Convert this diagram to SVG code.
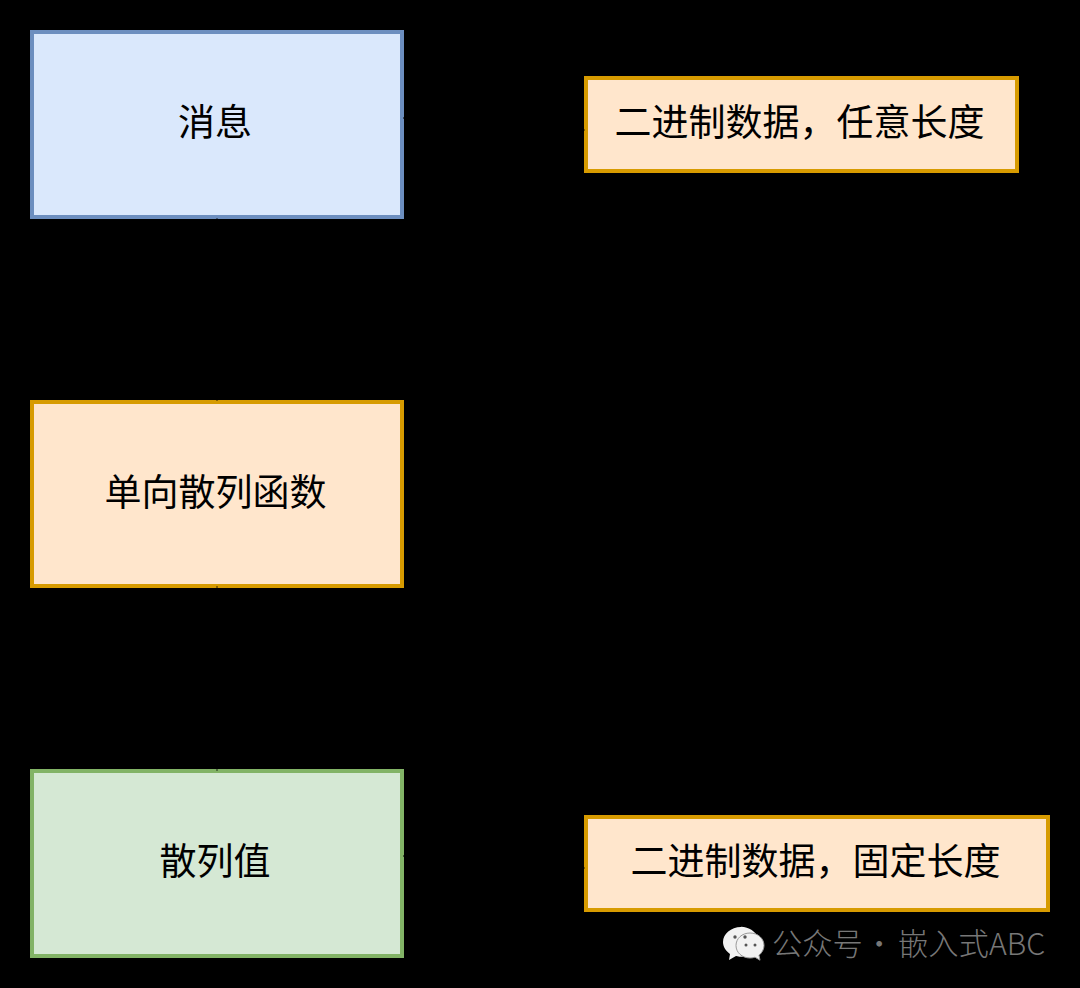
<svg xmlns="http://www.w3.org/2000/svg" width="1080" height="988" viewBox="0 0 1080 988">
<style>
.n{stroke-width:4}
.blue{fill:#dae8fc;stroke:#6c8ebf}
.orange{fill:#ffe6cc;stroke:#d79b00}
.green{fill:#d5e8d4;stroke:#82b366}
text{font-family:"Noto Sans CJK SC","Noto Sans",sans-serif;font-size:37px;fill:#000;text-anchor:middle}
.c{fill:none;stroke:#000;stroke-width:1;stroke-opacity:.75}
.wm{font-size:30.300px;fill:#777;text-anchor:start;font-weight:300}
</style>
<defs><marker id="a" viewBox="0 0 10 10" refX="10" refY="5" markerWidth="6" markerHeight="6" markerUnits="userSpaceOnUse" orient="auto"><path d="M0 0L10 5L0 10L3 5Z" fill="#000"/></marker></defs>
<rect width="1080" height="988" fill="#000"/>
<g id="msg"><rect class="n blue" x="32" y="32" width="370" height="185"/><text x="215" y="136">消息</text></g>
<g id="hash"><rect class="n orange" x="32" y="402" width="370" height="184"/><text x="215.500" y="506">单向散列函数</text></g>
<g id="value"><rect class="n green" x="32" y="771" width="370" height="185"/><text x="215" y="875">散列值</text></g>
<g id="note1"><rect class="n orange" x="586" y="78" width="431" height="93"/><text x="799.500" y="136">二进制数据，任意长度</text></g>
<g id="note2"><rect class="n orange" x="586" y="817" width="462" height="93"/><text x="815.500" y="875">二进制数据，固定长度</text></g>
<g id="connectors">
<path class="c" d="M217 218V401"/>
<path class="c" d="M217 586V771"/>
<path class="c" marker-end="url(#a)" d="M585 130H494V118H403"/>
<path class="c" marker-end="url(#a)" d="M585 868H494V856H403"/>
</g>
<g id="watermark">
<path d="M741 927c-10 0-18 7-18 15 0 5 3 9 7 12l-1 6 7-4c2 .5 3 .7 5 .7h2c-1-2-1-3-1-5 0-8 7-14 16-14-2-6-9-11-17-11z" fill="#f2f2f2"/>
<path d="M750 933c-8 0-14 5.500-14 12.500s6 12.500 14 12.500c2 0 3.500-.3 5-.8l5 3-1-5c3-2.500 5-6 5-9.700 0-7-6-12.500-14-12.500z" fill="#f2f2f2" stroke="#999" stroke-width="1"/>
<circle cx="735" cy="937" r="1.700" fill="#555"/><circle cx="745" cy="937" r="1.700" fill="#555"/>
<circle cx="746" cy="945" r="1.500" fill="#555"/><circle cx="755" cy="945" r="1.500" fill="#555"/>
<text class="wm" x="772" y="955">公众号</text>
<text class="wm" x="864" y="955">·</text>
<text class="wm" x="898" y="955">嵌入式ABC</text>
</g>
</svg>
